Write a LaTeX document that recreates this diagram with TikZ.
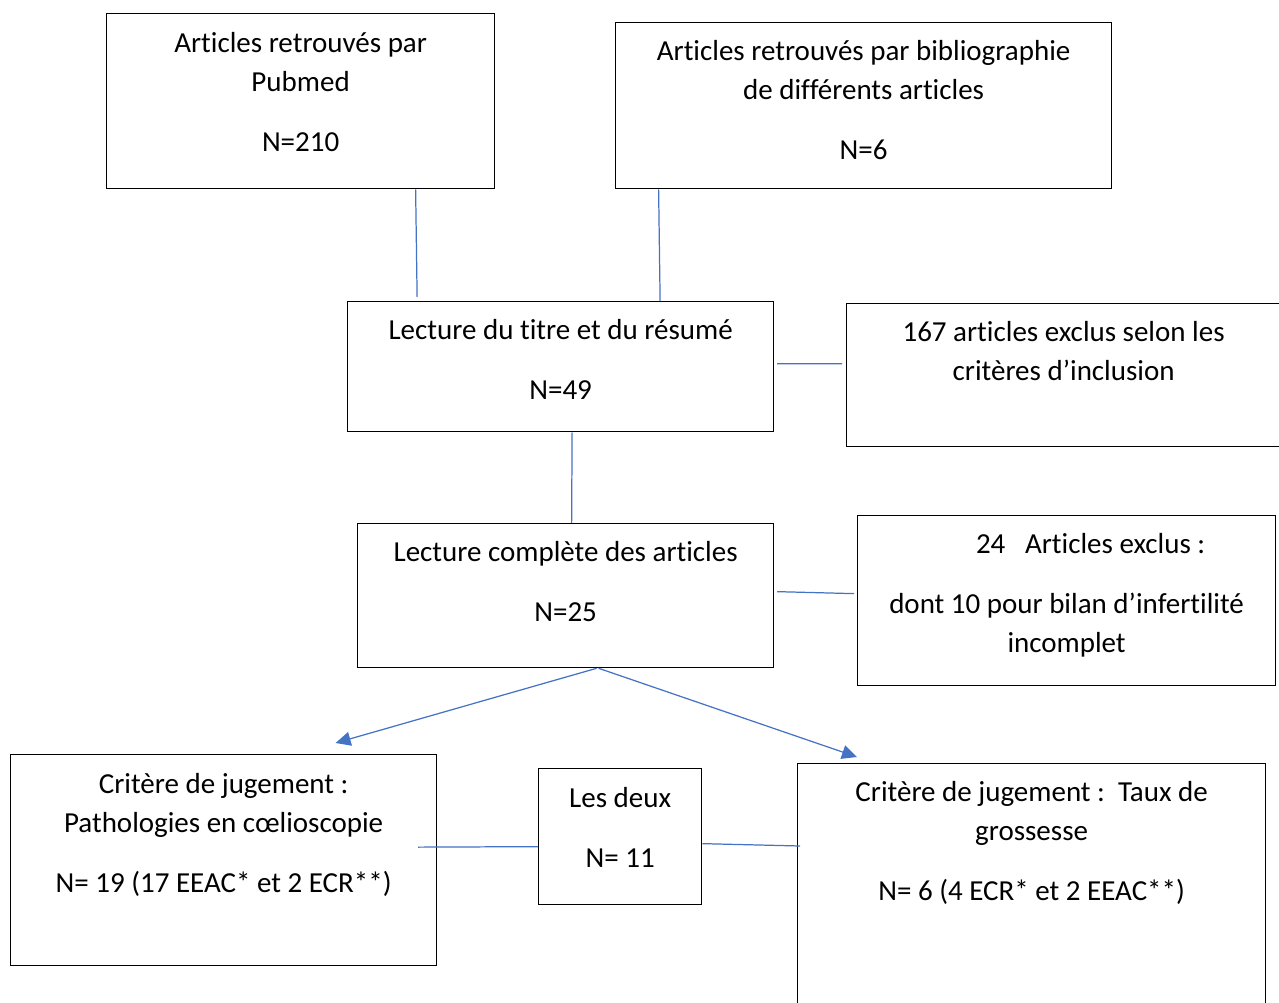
\documentclass[tikz,border=0pt]{standalone}
\usepackage{fontspec}
\setmainfont{Carlito}[Ligatures={NoCommon}]
\usetikzlibrary{arrows.meta,calc}

\definecolor{linkblue}{RGB}{68,114,196}
% box text: width, height, first baseline, lines
\newcommand{\flowbox}[4]{\parbox[c][#2][t]{#1}{\centering\rule{0pt}{#3}#4}}

\begin{document}
\begin{tikzpicture}[x=0.02cm, y=-0.02cm,
    box/.style={draw=black, line width=0.75pt, inner sep=0pt, anchor=north west,
                font=\fontsize{16.5pt}{22.1pt}\selectfont},
    link/.style={draw=linkblue, line width=0.7pt},
    arrow/.style={link, -{Triangle[length=0.3cm, width=0.28cm]}}]
    \useasboundingbox (0, 0) rectangle (1279, 1003);

    % Sources
    \node [box] (pubmed) at (106, 13)
          {\flowbox{7.76cm}{3.5cm}{0.78cm}{Articles retrouvés par\\Pubmed\\[11.9pt]N=210}};
    \node [box] (biblio) at (615, 22)
          {\flowbox{9.92cm}{3.32cm}{0.76cm}{Articles retrouvés par bibliographie\\de différents articles\\[11.9pt]N=6}};

    % Screening
    \node [box] (titre) at (347, 301)
          {\flowbox{8.52cm}{2.6cm}{0.76cm}{Lecture du titre et du résumé\\[11.9pt]N=49}};
    \node [box] (exclus1) at (846, 303)
          {\flowbox{8.68cm}{2.86cm}{0.76cm}{167 articles exclus selon les\\critères d’inclusion}};

    % Full reading
    \node [box] (complete) at (357, 523)
          {\flowbox{8.32cm}{2.88cm}{0.76cm}{Lecture complète des articles\\[11.9pt]N=25}};
    \node [box] (exclus2) at (857, 515)
          {\flowbox{8.36cm}{3.4cm}{0.76cm}{\hspace*{0.96cm}24\ \ \ Articles exclus :\\[11.9pt]dont 10 pour bilan d’infertilité\\incomplet}};

    % Outcomes
    \node [box] (patho) at (10, 754)
          {\flowbox{8.52cm}{4.22cm}{0.78cm}{Critère de jugement :\\Pathologies en cœlioscopie\\[11.9pt]N= 19 (17 EEAC* et 2 ECR**)}};
    \node [box] (deux) at (538, 768)
          {\flowbox{3.26cm}{2.72cm}{0.78cm}{Les deux\\[11.9pt]N= 11}};
    \node [box] (taux) at (797, 763)
          {\flowbox{9.36cm}{5.2cm}{0.76cm}{Critère de jugement :\ \ Taux de\\grossesse\\[11.9pt]N= 6 (4 ECR* et 2 EEAC**)}};

    % Connections
    \draw [link] ($(pubmed.south)+(115, 0)$) -- ($(titre.north)+(-143.5, -4)$);
    \draw [link] ($(biblio.south)+(-205, 0)$) -- ($(titre.north)+(99.5, 0)$);
    \draw [link] ($(titre.east)+(3, -3)$) -- ($(exclus1.west)+(-4, -11.5)$);
    \draw [link] ($(titre.south)+(11.5, 0)$) -- ($(complete.north)+(6, 0)$);
    \draw [link] ($(complete.east)+(3, -4)$) -- ($(exclus2.west)+(-3, -7)$);
    \draw [arrow] ($(complete.south)+(31, 0)$) -- ($(patho.north)+(112, -11)$);
    \draw [arrow] ($(complete.south)+(33, 0)$) -- ($(taux.north west)+(60, -6)$);
    \draw [link] ($(patho.east)+(-19, -13)$) -- ($(deux.west)+(0, 10)$);
    \draw [link] ($(deux.east)+(0, 7)$) -- ($(taux.north west)+(3, 83)$);

\end{tikzpicture}
\end{document}
